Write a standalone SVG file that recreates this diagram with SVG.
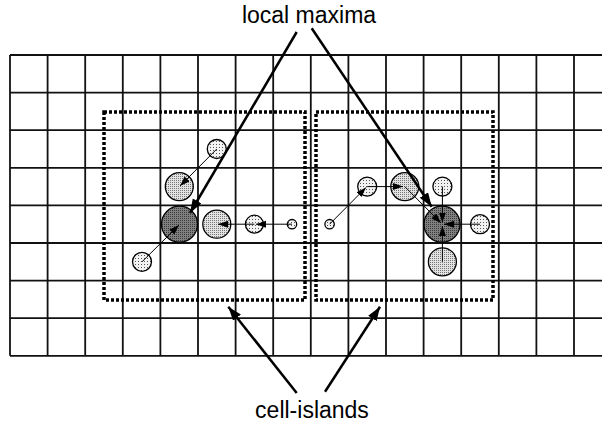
<svg xmlns="http://www.w3.org/2000/svg" width="602" height="423" viewBox="0 0 602 423">
<style>
.grid line{stroke:#111;stroke-width:1.8}
.island{fill:none;stroke:#000;stroke-width:3.5;stroke-dasharray:3 2}
.c{stroke:#000;stroke-width:1.3}
.light{fill:url(#pLight)}
.med{fill:url(#pMed)}
.dark{fill:url(#pDark)}
.big{stroke:#000;stroke-width:2.5;fill:none;marker-end:url(#bigHead)}
.small{stroke:#000;stroke-width:1;fill:none;marker-end:url(#smallHead)}
text{font-family:"Liberation Sans",Arial,sans-serif;font-size:23px;fill:#000;text-anchor:middle}
</style>
<defs>
<pattern id="pLight" width="3" height="3" patternUnits="userSpaceOnUse">
<rect width="3" height="3" fill="#f2f2f2"/><rect width="1" height="1" fill="#555"/>
</pattern>
<pattern id="pMed" width="2" height="2" patternUnits="userSpaceOnUse">
<rect width="2" height="2" fill="#e2e2e2"/><rect width="1" height="1" fill="#777"/>
</pattern>
<pattern id="pDark" width="2" height="2" patternUnits="userSpaceOnUse">
<rect width="2" height="2" fill="#808080"/><rect width="1" height="1" fill="#3a3a3a"/>
</pattern>
<marker id="bigHead" markerUnits="userSpaceOnUse" markerWidth="16" markerHeight="12" refX="14" refY="5" orient="auto">
<path d="M0,0 L14,5 L0,10 Z" fill="#000"/>
</marker>
<marker id="smallHead" markerUnits="userSpaceOnUse" markerWidth="12" markerHeight="8" refX="10" refY="3.5" orient="auto">
<path d="M0,0 L10,3.5 L0,7 Z" fill="#000"/>
</marker>
</defs>
<rect width="602" height="423" fill="#fff"/>
<g id="grid" class="grid">
<line x1="10" y1="55" x2="602" y2="55"/>
<line x1="10" y1="92.6" x2="602" y2="92.6"/>
<line x1="10" y1="130.2" x2="602" y2="130.2"/>
<line x1="10" y1="167.8" x2="602" y2="167.8"/>
<line x1="10" y1="205.4" x2="602" y2="205.4"/>
<line x1="10" y1="243" x2="602" y2="243"/>
<line x1="10" y1="280.6" x2="602" y2="280.6"/>
<line x1="10" y1="318.2" x2="602" y2="318.2"/>
<line x1="10" y1="355.8" x2="602" y2="355.8"/>
<line x1="10" y1="55" x2="10" y2="355.8"/>
<line x1="47.6" y1="55" x2="47.6" y2="355.8"/>
<line x1="85.2" y1="55" x2="85.2" y2="355.8"/>
<line x1="122.8" y1="55" x2="122.8" y2="355.8"/>
<line x1="160.4" y1="55" x2="160.4" y2="355.8"/>
<line x1="198" y1="55" x2="198" y2="355.8"/>
<line x1="235.6" y1="55" x2="235.6" y2="355.8"/>
<line x1="273.2" y1="55" x2="273.2" y2="355.8"/>
<line x1="310.8" y1="55" x2="310.8" y2="355.8"/>
<line x1="348.4" y1="55" x2="348.4" y2="355.8"/>
<line x1="386" y1="55" x2="386" y2="355.8"/>
<line x1="423.6" y1="55" x2="423.6" y2="355.8"/>
<line x1="461.2" y1="55" x2="461.2" y2="355.8"/>
<line x1="498.8" y1="55" x2="498.8" y2="355.8"/>
<line x1="536.4" y1="55" x2="536.4" y2="355.8"/>
<line x1="574" y1="55" x2="574" y2="355.8"/>
</g>
<g id="island-left"><rect class="island" x="104" y="112" width="201" height="188"/></g>
<g id="island-right"><rect class="island" x="316" y="112" width="177" height="188"/></g>
<g id="cells-left">
<circle class="c dark" cx="179.5" cy="224.2" r="18"/>
<circle class="c med" cx="179.3" cy="186.6" r="14"/>
<circle class="c light" cx="216.8" cy="149" r="9.5"/>
<circle class="c med" cx="216.8" cy="224.2" r="14"/>
<circle class="c light" cx="254.4" cy="224.2" r="9"/>
<circle class="c light" cx="292" cy="224.2" r="4.7"/>
<circle class="c light" cx="142" cy="261.8" r="9.5"/>
</g>
<g id="cells-right">
<circle class="c light" cx="329.6" cy="224.2" r="4.7"/>
<circle class="c light" cx="367.2" cy="186.6" r="9.5"/>
<circle class="c med" cx="404.8" cy="186.6" r="14"/>
<circle class="c dark" cx="442" cy="224.2" r="18"/>
<circle class="c light" cx="442.4" cy="186.6" r="9.5"/>
<circle class="c light" cx="480" cy="224.2" r="9.5"/>
<circle class="c med" cx="442.4" cy="261.8" r="14"/>
</g>
<g id="connectors">
<line class="small" x1="216.8" y1="149" x2="180" y2="186"/>
<line class="small" x1="142" y1="261.8" x2="179" y2="225"/>
<line class="small" x1="292" y1="224.2" x2="256" y2="224.2"/>
<line class="small" x1="254.4" y1="224.2" x2="218" y2="224.2"/>
<line class="small" x1="329.6" y1="224.2" x2="366" y2="187.5"/>
<line class="small" x1="367.2" y1="186.6" x2="403" y2="186.6"/>
<line class="small" x1="404.8" y1="186.6" x2="441" y2="223"/>
<line class="small" x1="442.4" y1="186.6" x2="442.4" y2="222.5"/>
<line class="small" x1="480" y1="224.2" x2="444" y2="224.2"/>
<line class="small" x1="442.4" y1="261.8" x2="442.4" y2="226"/>
<line class="big" x1="296.7" y1="32" x2="190" y2="213"/>
<line class="big" x1="311.7" y1="28.3" x2="431.7" y2="206.7"/>
<line class="big" x1="296.7" y1="393" x2="228.3" y2="306.7"/>
<line class="big" x1="325" y1="391.7" x2="380" y2="306.7"/>
</g>
<g id="labels">
<text x="309" y="23">local maxima</text>
<text x="312" y="417.5">cell-islands</text>
</g>
</svg>
